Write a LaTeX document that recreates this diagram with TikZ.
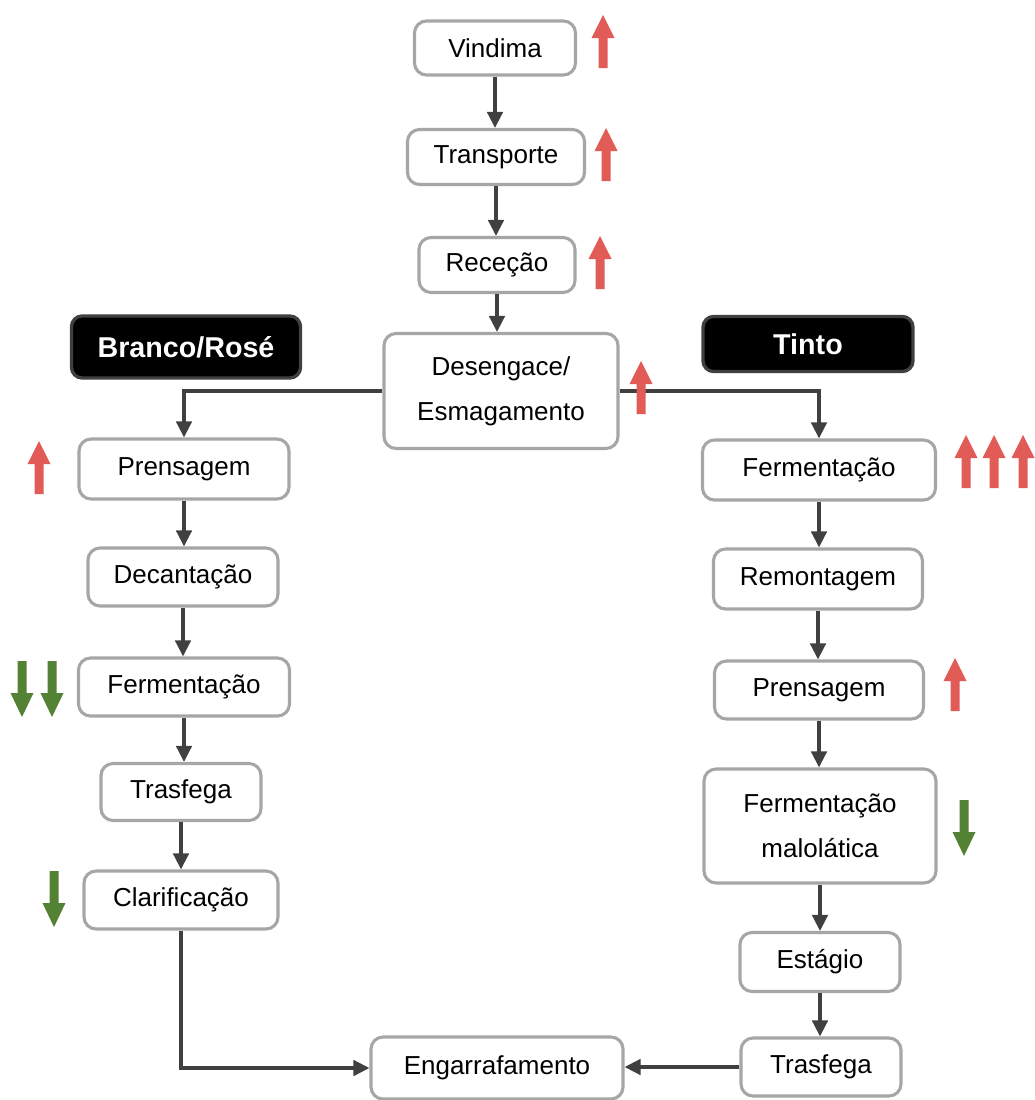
\documentclass[tikz,border=0pt]{standalone}
\usepackage{fontspec}
\setmainfont{Liberation Sans}
\usetikzlibrary{arrows.meta}
\definecolor{boxgray}{HTML}{A6A6A6}
\definecolor{linegray}{HTML}{404040}
\definecolor{arrred}{HTML}{E15B57}
\definecolor{arrgreen}{HTML}{548235}
\tikzset{
  stepbox/.style={draw=boxgray, line width=2.3pt, fill=white, rounded corners=9pt,
    inner sep=0pt, align=center, font=\fontsize{19.5}{34}\selectfont},
  headbox/.style={draw=linegray, line width=2.5pt, fill=black, rounded corners=8pt,
    inner sep=0pt, align=center, text=white, font=\fontsize{21.5}{26}\selectfont\bfseries},
  wh/.style 2 args={minimum width=#1*0.75pt, minimum height=#2*0.75pt},
  conn/.style={draw=linegray, line width=2.6pt,
    -{Triangle[width=11.5pt,length=12pt]}},
  uparr/.pic={\fill[arrred] (0,0) -- (11.5,23) -- (4.5,23) -- (4.5,53) -- (-4.5,53)
    -- (-4.5,23) -- (-11.5,23) -- cycle;},
  downarr/.pic={\fill[arrgreen] (0,0) -- (11.5,-24) -- (4.5,-24) -- (4.5,-56) -- (-4.5,-56)
    -- (-4.5,-24) -- (-11.5,-24) -- cycle;}
}
\begin{document}
\begin{tikzpicture}[x=0.75pt, y=-0.75pt]
\useasboundingbox (0,0) rectangle (1035,1100);
\fill[white] (0,0) rectangle (1035,1100);

% common trunk
\node[stepbox, wh={161}{54}] (vin) at (495,48) {Vindima};
\node[stepbox, wh={177}{55}] (tra) at (496,157) {Transporte};
\node[stepbox, wh={156}{55}] (rec) at (497,265) {Receção};
\node[stepbox, wh={234}{115}] (des) at (501,391) {Desengace/\\Esmagamento};

% column headers
\node[headbox, wh={229}{62}] (hbr) at (186,347) {Branco/Rosé};
\node[headbox, wh={210}{55}] (htin) at (808,344) {Tinto};

% white / rosé branch
\node[stepbox, wh={210}{60}] (lpre) at (184,469) {Prensagem};
\node[stepbox, wh={190}{58}] (ldec) at (183,577) {Decantação};
\node[stepbox, wh={211}{58}] (lfer) at (184,687) {Fermentação};
\node[stepbox, wh={160}{57}] (ltra) at (181,792) {Trasfega};
\node[stepbox, wh={194}{58}] (lcla) at (181,900) {Clarificação};

% red branch
\node[stepbox, wh={233}{60}] (rfer) at (819,470) {Fermentação};
\node[stepbox, wh={209}{60}] (rrem) at (818,579) {Remontagem};
\node[stepbox, wh={209}{58}] (rpre) at (819,690) {Prensagem};
\node[stepbox, wh={232}{114}] (rmal) at (820,826) {Fermentação\\malolática};
\node[stepbox, wh={160}{59}] (rest) at (820,962) {Estágio};
\node[stepbox, wh={160}{58}] (rtra) at (821,1067) {Trasfega};

% bottling
\node[stepbox, wh={252}{62}] (eng) at (497,1068) {Engarrafamento};

% connectors
\draw[conn] (vin.south) -- (vin.south |- tra.north);
\draw[conn] (tra.south) -- (tra.south |- rec.north);
\draw[conn] (rec.south) -- (rec.south |- des.north);
\draw[conn] (des.west) -| (lpre.north);
\draw[conn] (des.east) -| (rfer.north);
\draw[conn] (lpre.south) -- (lpre.south |- ldec.north);
\draw[conn] (ldec.south) -- (ldec.south |- lfer.north);
\draw[conn] (lfer.south) -- (lfer.south |- ltra.north);
\draw[conn] (ltra.south) -- (ltra.south |- lcla.north);
\draw[conn] (lcla.south) |- (eng.west);
\draw[conn] (rfer.south) -- (rfer.south |- rrem.north);
\draw[conn] (rrem.south) -- (rrem.south |- rpre.north);
\draw[conn] (rpre.south) -- (rpre.south |- rmal.north);
\draw[conn] (rmal.south) -- (rmal.south |- rest.north);
\draw[conn] (rest.south) -- (rest.south |- rtra.north);
\draw[conn] (rtra.west) -- (rtra.west -| eng.east);

% increase / decrease markers
\pic at (603,15) {uparr};
\pic at (606,128) {uparr};
\pic at (600,236) {uparr};
\pic at (641,361) {uparr};
\pic at (39,441) {uparr};
\pic at (966,435) {uparr};
\pic at (994,435) {uparr};
\pic at (1023,435) {uparr};
\pic at (955,658) {uparr};
\pic at (22,717) {downarr};
\pic at (52,717) {downarr};
\pic at (54,927) {downarr};
\pic at (964,856) {downarr};
\end{tikzpicture}
\end{document}
